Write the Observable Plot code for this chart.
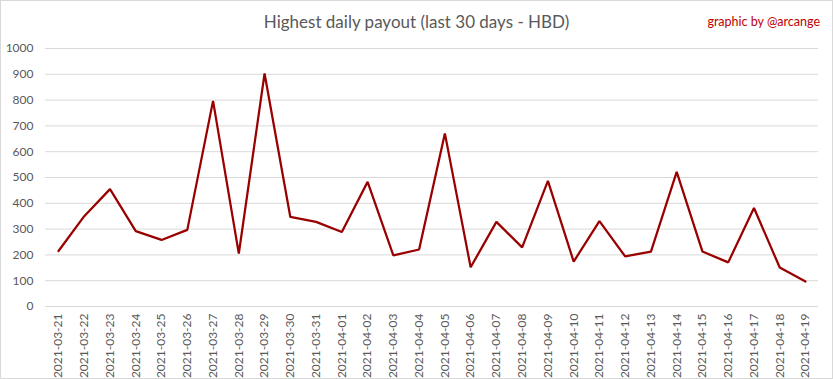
<!DOCTYPE html>
<html>
<head>
<meta charset="utf-8">
<script src="https://cdn.jsdelivr.net/npm/d3@7"></script>
<script src="https://cdn.jsdelivr.net/npm/@observablehq/plot@0.6"></script>
<style>
  html, body { margin: 0; padding: 0; background: #fff; }
  #wrap { position: relative; width: 833px; height: 379px; overflow: hidden; font-family: Lato, "Open Sans", sans-serif; }
  #title { position: absolute; left: 0; width: 833px; top: 11px; text-align: center; font-size: 17px; color: #595959; }
  #credit { position: absolute; right: 13px; top: 14px; font-size: 12.5px; color: #c00000; }
  #border { position: absolute; left: 0; top: 0; width: 831px; height: 377px; border: 1px solid #d9d9d9; pointer-events: none; }
</style>
</head>
<body>
<div id="wrap">
  <div id="chart"></div>
  <div id="title">Highest daily payout (last 30 days - HBD)</div>
  <div id="credit">graphic by @arcange</div>
  <div id="border"></div>
</div>
<script>
const dates = [
  "2021-03-21","2021-03-22","2021-03-23","2021-03-24","2021-03-25","2021-03-26","2021-03-27","2021-03-28","2021-03-29","2021-03-30",
  "2021-03-31","2021-04-01","2021-04-02","2021-04-03","2021-04-04","2021-04-05","2021-04-06","2021-04-07","2021-04-08","2021-04-09",
  "2021-04-10","2021-04-11","2021-04-12","2021-04-13","2021-04-14","2021-04-15","2021-04-16","2021-04-17","2021-04-18","2021-04-19"
];
const payouts = [
  215, 350, 455, 292, 258, 297, 797, 205, 903, 347,
  328, 289, 483, 198, 221, 671, 152, 328, 229, 487,
  174, 331, 194, 213, 522, 213, 171, 382, 151, 97
];
const yTicks = [0, 100, 200, 300, 400, 500, 600, 700, 800, 900, 1000];

const parse = d3.utcParse("%Y-%m-%d");
const dateObjs = dates.map(parse);
const data = dateObjs.map((d, i) => ({date: d, value: payouts[i]}));

const chart = Plot.plot({
  width: 833,
  height: 379,
  marginTop: 48,
  marginBottom: 73,
  marginLeft: 58,
  marginRight: 28,
  style: {fontFamily: "Lato, 'Open Sans', sans-serif", fontSize: "11px", color: "#595959", background: "transparent"},
  x: {type: "utc", domain: d3.extent(dateObjs), label: null},
  y: {domain: [0, 1000], label: null},
  marks: [
    Plot.ruleY(yTicks, {stroke: "#d9d9d9", strokeWidth: 1, insetLeft: -13, insetRight: -13}),
    Plot.axisY(yTicks, {tickSize: 0, tickPadding: 25, tickFormat: "d", fontSize: 12, color: "#595959"}),
    Plot.axisX(dateObjs, {tickSize: 0, tickPadding: 7, tickRotate: -90, tickFormat: d3.utcFormat("%Y-%m-%d"), fontSize: 12, color: "#595959"}),
    Plot.line(data, {x: "date", y: "value", stroke: "#990000", strokeWidth: 2.25, strokeLinejoin: "miter"})
  ]
});
document.getElementById("chart").appendChild(chart);
</script>
</body>
</html>
